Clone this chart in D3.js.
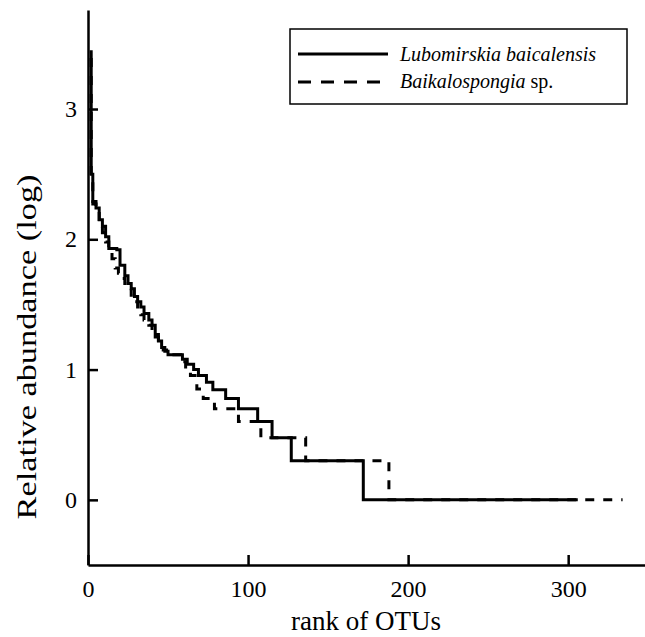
<!DOCTYPE html>
<html><head><meta charset="utf-8"><script src="https://cdn.jsdelivr.net/npm/d3@7"></script></head>
<body style="margin:0">
<svg width="645" height="637"></svg>
<script>
// rank-abundance curves, stored as step breakpoints (rank where a level starts, log abundance)
const lubomirskiaRank = [1, 2, 3, 5, 7, 9, 11, 13, 18, 20, 23, 25, 27, 29, 31, 33, 35, 38, 40, 42, 44, 46, 48, 50, 59, 62, 66, 69, 74, 78, 86, 94, 106, 115, 127, 172, 306];
const lubomirskiaValue = [3.44, 2.5, 2.29, 2.24, 2.15, 2.1, 2.02, 1.93, 1.92, 1.8, 1.72, 1.66, 1.62, 1.56, 1.52, 1.48, 1.43, 1.38, 1.34, 1.27, 1.22, 1.17, 1.14, 1.114, 1.079, 1.041, 1.0, 0.954, 0.903, 0.845, 0.778, 0.699, 0.602, 0.477, 0.301, 0, 0];

const baikalospongiaRank = [1, 2, 3, 5, 7, 9, 11, 13, 15, 17, 19, 21, 23, 25, 27, 29, 31, 33, 35, 38, 40, 42, 44, 47, 52, 58, 61, 64, 68, 72, 79, 94, 108, 136, 188, 334];
const baikalospongiaValue = [3.38, 2.48, 2.27, 2.22, 2.12, 2.05, 1.98, 1.92, 1.85, 1.78, 1.74, 1.7, 1.66, 1.62, 1.57, 1.52, 1.46, 1.42, 1.38, 1.34, 1.3, 1.25, 1.2, 1.15, 1.114, 1.06, 1.0, 0.954, 0.85, 0.778, 0.699, 0.602, 0.477, 0.301, 0, 0];

const xTicks = [0, 100, 200, 300];
const yTicks = [0, 1, 2, 3];
const species = ["Lubomirskia baicalensis", "Baikalospongia"];

const serif = "Liberation Serif";

const svg = d3.select("svg");

const x = d3.scaleLinear().domain([0, 348]).range([88, 645]);
const y = d3.scaleLinear().domain([-0.5, 3.76]).range([565, 10]);

const toPoints = (ranks, values) => ranks.map((r, i) => ({ rank: r, value: values[i] }));

const line = d3.line()
  .x((d) => x(d.rank))
  .y((d) => y(d.value))
  .curve(d3.curveStepAfter);

svg.append("path")
  .attr("d", line(toPoints(baikalospongiaRank, baikalospongiaValue)))
  .attr("fill", "none")
  .attr("stroke", "#000")
  .attr("stroke-width", 3)
  .attr("stroke-dasharray", "9,9");

svg.append("path")
  .attr("d", line(toPoints(lubomirskiaRank, lubomirskiaValue)))
  .attr("fill", "none")
  .attr("stroke", "#000")
  .attr("stroke-width", 3);

// axes, ticks pointing inward
const xAxis = svg.append("g")
  .attr("transform", `translate(0,${y(-0.5)})`)
  .call(d3.axisBottom(x).tickValues(xTicks).tickFormat(d3.format("d"))
    .tickSize(-10).tickSizeOuter(0).tickPadding(15));

const yAxis = svg.append("g")
  .attr("transform", `translate(${x(0)},0)`)
  .call(d3.axisLeft(y).tickValues(yTicks).tickFormat(d3.format("d"))
    .tickSize(-10).tickSizeOuter(0).tickPadding(11));

[xAxis, yAxis].forEach((g) => {
  g.attr("font-family", serif).attr("font-size", 24);
  g.selectAll("path, line").attr("stroke", "#000").attr("stroke-width", 2.5);
  g.selectAll("text").attr("fill", "#000");
});

svg.append("text")
  .attr("x", 366)
  .attr("y", 630)
  .attr("text-anchor", "middle")
  .attr("font-family", serif)
  .attr("font-size", 27)
  .text("rank of OTUs");

svg.append("text")
  .attr("transform", "translate(36,347) rotate(-90)")
  .attr("text-anchor", "middle")
  .attr("font-family", serif)
  .attr("font-size", 27)
  .attr("textLength", 345)
  .attr("lengthAdjust", "spacingAndGlyphs")
  .text("Relative abundance  (log)");

// legend
const legend = svg.append("g");

legend.append("rect")
  .attr("x", 290)
  .attr("y", 29)
  .attr("width", 337)
  .attr("height", 75)
  .attr("fill", "#fff")
  .attr("stroke", "#000")
  .attr("stroke-width", 1.5);

legend.append("line")
  .attr("x1", 298).attr("x2", 388)
  .attr("y1", 54).attr("y2", 54)
  .attr("stroke", "#000")
  .attr("stroke-width", 3);

legend.append("line")
  .attr("x1", 298).attr("x2", 380)
  .attr("y1", 82).attr("y2", 82)
  .attr("stroke", "#000")
  .attr("stroke-width", 3)
  .attr("stroke-dasharray", "13,10");

legend.append("text")
  .attr("x", 400)
  .attr("y", 61)
  .attr("font-family", serif)
  .attr("font-size", 20)
  .attr("font-style", "italic")
  .text(species[0]);

const second = legend.append("text")
  .attr("x", 400)
  .attr("y", 88)
  .attr("font-family", serif)
  .attr("font-size", 20);

second.append("tspan").attr("font-style", "italic").text(species[1]);
second.append("tspan").text(" sp.");
</script>
</body>
</html>
